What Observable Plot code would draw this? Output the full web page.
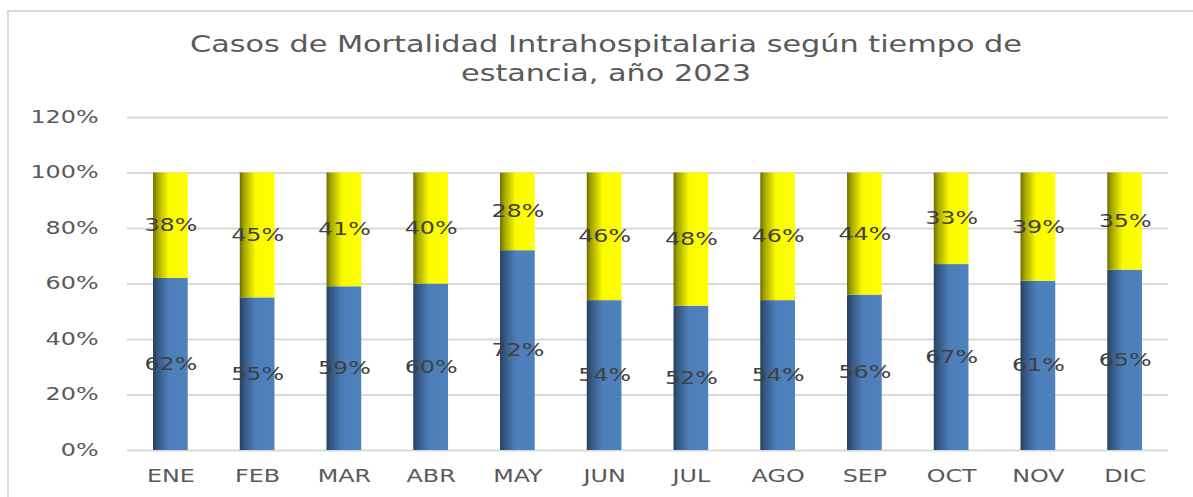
<!DOCTYPE html>
<html><head><meta charset="utf-8">
<script src="https://cdn.jsdelivr.net/npm/d3@7"></script>
<script src="https://cdn.jsdelivr.net/npm/@observablehq/plot@0.6"></script>
<style>
body{margin:0;background:#fff;font-family:"DejaVu Sans",sans-serif;}
#frame{position:absolute;left:7px;top:10px;right:-5px;bottom:-5px;border-top:2px solid #d9d9d9;border-left:2px solid #d9d9d9;pointer-events:none}
#wrap{position:relative;width:1193px;height:497px;}
</style>
</head><body>
<div id="wrap"><div id="frame"></div><div id="title"></div><div id="chart"></div></div>
<script>
const meses = ["ENE","FEB","MAR","ABR","MAY","JUN","JUL","AGO","SEP","OCT","NOV","DIC"];
const serieAzul = [62,55,59,60,72,54,52,54,56,67,61,65];
const serieAmarilla = [38,45,41,40,28,46,48,46,44,33,39,35];
const yTicks = [0,20,40,60,80,100,120];
const titulo = ["Casos de Mortalidad Intrahospitalaria según tiempo de","estancia, año 2023"];

const NS = "http://www.w3.org/2000/svg";
const STRETCH = 1.4;

// title
const tsvg = document.createElementNS(NS,"svg");
tsvg.setAttribute("width",1193); tsvg.setAttribute("height",100);
tsvg.style.display="block";
document.getElementById("title").appendChild(tsvg);
const tLines = titulo.map((t,i)=>{
  const el = document.createElementNS(NS,"text");
  el.textContent = t;
  el.setAttribute("x",606); el.setAttribute("y", 52 + i*29);
  el.setAttribute("text-anchor","middle");
  el.setAttribute("font-size",23);
  el.setAttribute("font-family","DejaVu Sans");
  el.setAttribute("fill","#595959");
  tsvg.appendChild(el);
  return el;
});
const k = 832 / tLines[0].getComputedTextLength();
tLines.forEach(el=>{
  el.setAttribute("textLength", el.getComputedTextLength()*k);
  el.setAttribute("lengthAdjust","spacingAndGlyphs");
});

const rows = meses.map((m,i)=>({mes:m, azul:serieAzul[i], amarilla:serieAmarilla[i]}));

function gradients(){
  const defs = document.createElementNS(NS,"defs");
  const mk = (id, stops) => {
    const g = document.createElementNS(NS,"linearGradient");
    g.setAttribute("id",id); g.setAttribute("x1","0"); g.setAttribute("x2","1"); g.setAttribute("y1","0"); g.setAttribute("y2","0");
    stops.forEach(([o,c])=>{const s=document.createElementNS(NS,"stop"); s.setAttribute("offset",o); s.setAttribute("stop-color",c); g.appendChild(s);});
    defs.appendChild(g);
  };
  mk("gAzul",[[0,"#263f5e"],[0.12,"#33557f"],[0.45,"#4d7eb9"],[1,"#4f81bd"]]);
  mk("gAmarillo",[[0,"#6e6e00"],[0.12,"#a3a300"],[0.45,"#fbfb00"],[1,"#ffff00"]]);
  mk("gTope",[[0,"#1f3550"],[0.45,"#34567f"],[1,"#3a6090"]]);
  return defs;
}

const plot = Plot.plot({
  width: 1193,
  height: 397,
  marginTop: 17,
  marginBottom: 47,
  marginLeft: 127,
  marginRight: 25,
  style: {fontFamily: "DejaVu Sans", fontSize: "17px", color: "#595959", background: "transparent"},
  x: {domain: meses, paddingInner: 0.6, paddingOuter: 0.3, round: false, label: null, tickSize: 0, tickPadding: 19},
  y: {domain: [0,120], ticks: yTicks, tickFormat: d => d + "%", label: null, tickSize: 0, tickPadding: 29},
  marks: [
    gradients,
    Plot.ruleY(yTicks, {stroke: "#d9d9d9", strokeWidth: 2}),
    Plot.barY(rows, {x: "mes", y1: 0, y2: "azul", fill: "url(#gAzul)"}),
    Plot.tickY(rows, {x: "mes", y: "azul", stroke: "url(#gTope)", strokeWidth: 3, dy: 1.5, strokeOpacity: 0.75}),
    Plot.barY(rows, {x: "mes", y1: "azul", y2: d => d.azul + d.amarilla, fill: "url(#gAmarillo)"}),
    Plot.text(rows, {x: "mes", y: d => d.azul/2, text: d => d.azul + "%", fill: "#404040", fontSize: 17}),
    Plot.text(rows, {x: "mes", y: d => d.azul + d.amarilla/2, text: d => d.amarilla + "%", fill: "#404040", fontSize: 17})
  ]
});
document.getElementById("chart").appendChild(plot);
plot.querySelectorAll("text").forEach(el=>{
  const L = el.getComputedTextLength();
  if (L > 0) { el.setAttribute("textLength", L*STRETCH); el.setAttribute("lengthAdjust","spacingAndGlyphs"); }
});
</script>
</body></html>
